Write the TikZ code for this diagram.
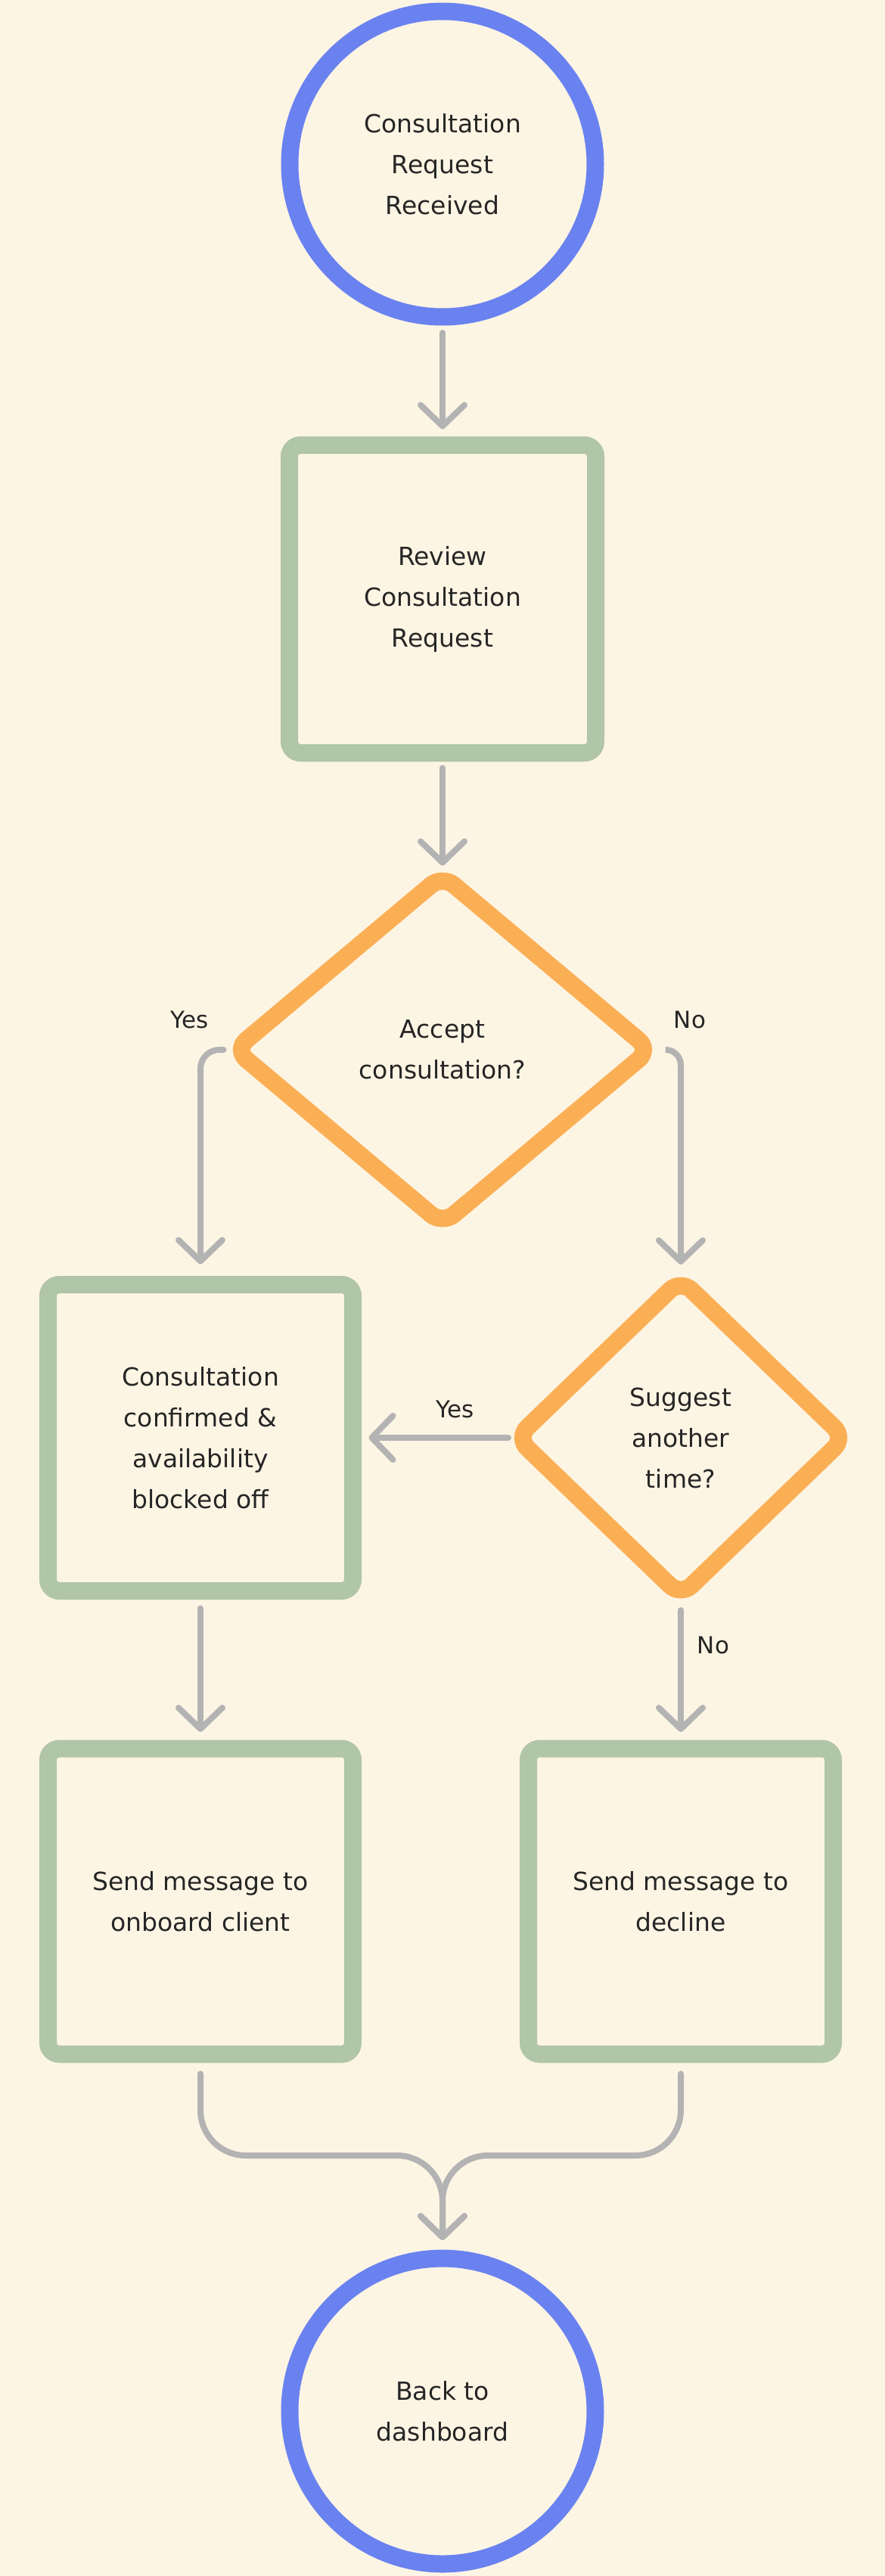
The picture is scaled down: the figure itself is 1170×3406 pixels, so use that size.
\documentclass[tikz,border=0pt]{standalone}
\usepackage{fontspec}
\setmainfont{DejaVu Sans}
\usetikzlibrary{shapes.geometric,arrows.meta}
\definecolor{bg}{RGB}{253,245,228}
\definecolor{cblue}{RGB}{106,130,240}
\definecolor{cgreen}{RGB}{176,198,166}
\definecolor{corange}{RGB}{251,175,85}
\definecolor{cgrey}{RGB}{179,179,179}
\definecolor{ctext}{RGB}{38,38,38}
\begin{document}
\begin{tikzpicture}[x=1pt,y=-1pt,
  every node/.style={outer sep=0pt, text=ctext, font=\fontsize{33}{54}\selectfont, align=center},
  term/.style={circle, draw=cblue, line width=23pt, minimum size=404pt, inner sep=0pt},
  proc/.style={rectangle, draw=cgreen, line width=23pt, rounded corners=15pt, inner sep=0pt},
  decision/.style={diamond, draw=corange, line width=23pt, rounded corners=20pt, inner sep=0pt},
  conn/.style={draw=cgrey, line width=8pt, line cap=round, -{Straight Barb[length=28pt,width=58pt,round]}},
  lbl/.style={font=\fontsize{31}{36}\selectfont}
]
\useasboundingbox (0,0) rectangle (1170,3406);
\fill[bg] (0,0) rectangle (1170,3406);

\node[term] (start) at (585,217) {Consultation\\Request\\Received};
\node[proc, minimum width=405pt, minimum height=407pt] (review) at (585,792) {Review\\Consultation\\Request};
\node[decision, minimum width=549pt, minimum height=461pt] (dec1) at (585,1388) {Accept\\consultation?};
\node[proc, minimum width=403pt, minimum height=405pt] (conf) at (265,1901) {Consultation\\confirmed \&\\availability\\blocked off};
\node[decision, minimum width=434pt, minimum height=418pt] (dec2) at (900,1901) {Suggest\\another\\time?};
\node[proc, minimum width=403pt, minimum height=404pt] (onboard) at (265,2514) {Send message to\\onboard client};
\node[proc, minimum width=403pt, minimum height=404pt] (decline) at (900,2514) {Send message to\\decline};
\node[term] (end) at (585,3188) {Back to\\dashboard};
\coordinate (merge) at (585,2850);

\node[lbl] (yes1) at (251,1348) {Yes};
\node[lbl] (no1) at (912,1348) {No};
\node[lbl] (yes2) at (602,1863) {Yes};
\node[lbl] (no2) at (943,2175) {No};

\draw[conn, shorten <=21pt, shorten >=21pt] (start.south) -- (review.north);
\draw[conn, shorten <=20pt, shorten >=13pt] (review.south) -- (dec1.north);
\draw[conn, rounded corners=25pt, shorten <=15pt, shorten >=27pt] (dec1.west) -| (conf.north);
\draw[conn, rounded corners=20pt, shorten <=21pt, shorten >=20pt] (dec1.east) -| (dec2.north);
\draw[conn, shorten <=11pt, shorten >=21pt] (dec2.west) -- (conf.east);
\draw[conn, shorten <=19pt, shorten >=22pt] (dec2.south) -- (decline.north);
\draw[conn, shorten <=23pt, shorten >=22pt] (conf.south) -- (onboard.north);
\draw[conn, rounded corners=60pt, shorten <=26pt, shorten >=24pt] (onboard.south) |- (merge) -- (end.north);
\draw[conn, rounded corners=60pt, shorten <=26pt, shorten >=24pt] (decline.south) |- (merge) -- (end.north);
\end{tikzpicture}
\end{document}
